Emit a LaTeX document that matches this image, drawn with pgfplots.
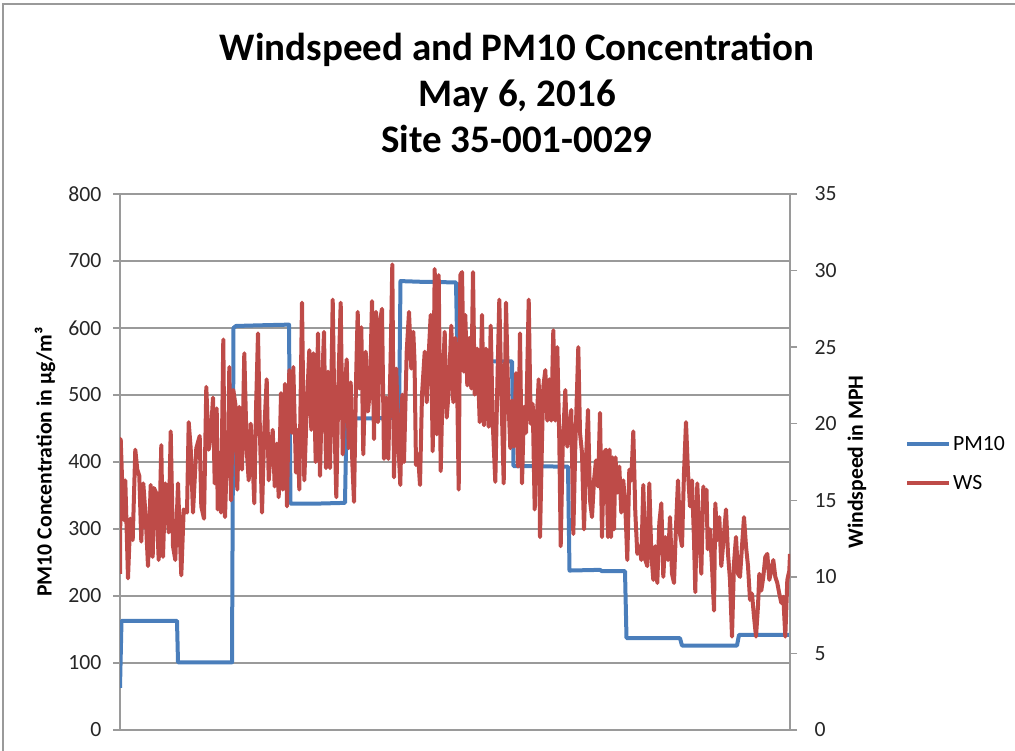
\documentclass[border=0pt]{standalone}
\usepackage{fontspec}
\setmainfont{Carlito}
\usepackage{pgfplots}
\pgfplotsset{compat=1.18}
\definecolor{pmblue}{HTML}{4A7EBB}
\definecolor{wsred}{HTML}{BE4B48}
\definecolor{gridgray}{HTML}{9A9A9A}
\newcommand{\lbl}{\fontsize{21.7}{26}\selectfont}
\begin{document}
\begin{tikzpicture}
\path[use as bounding box] (0pt,0pt) rectangle (1015pt,751pt);
\draw[gridgray, line width=1.5pt] (3pt,0pt) -- (3pt,747pt) -- (1015pt,747pt);
\node[anchor=base, font=\bfseries\fontsize{39}{46}\selectfont] at (517pt,690pt) {Windspeed and PM10 Concentration};
\node[anchor=base, font=\bfseries\fontsize{39}{46}\selectfont] at (517pt,644pt) {May 6, 2016};
\node[anchor=base, font=\bfseries\fontsize{39}{46}\selectfont] at (517pt,598pt) {Site 35-001-0029};
\begin{axis}[
  at={(120pt,21pt)}, anchor=south west,
  width=670pt, height=536pt, scale only axis,
  xmin=0, xmax=670, ymin=0, ymax=800,
  xtick=\empty,
  ytick={0,100,...,800},
  ytick pos=left,
  tick align=outside,
  major tick length=7pt,
  ymajorgrids,
  grid style={gridgray, line width=1.3pt},
  axis line style={gridgray, line width=1.3pt},
  tick style={gridgray, line width=1.3pt},
  yticklabel style={font=\lbl, text=black!85, xshift=-8pt},
  /pgf/number format/assume math mode=true,
  ylabel={PM10 Concentration in µg/m³},
  ylabel style={font=\bfseries\lbl, at={(axis description cs:-0.112,0.5)}, anchor=center},
]
\addplot[pmblue, line width=4pt, line join=round] coordinates {
(0,63) (1.5,163) (57,163) (58,101) (112,101) (113.5,600) (116,603) (140,604) (169,605) (170.5,338) (200,338) (225,339) (226.5,465) (250,465) (279,466) (280.5,670) (300,669) (336,668) (337.5,551) (392,550) (393.5,394) (448,393) (449.5,238) (480,239) (482,237) (505,237) (506.5,137) (560,137) (562,126) (617,126) (619,142) (670,142)
};
\end{axis}
\begin{axis}[
  at={(120pt,21pt)}, anchor=south west,
  width=670pt, height=536pt, scale only axis,
  xmin=0, xmax=670, ymin=0, ymax=35,
  axis x line=none,
  axis y line*=right,
  ytick={0,5,...,35},
  tick align=outside,
  major tick length=7pt,
  axis line style={gridgray, line width=1.3pt},
  tick style={gridgray, line width=1.3pt},
  yticklabel style={font=\lbl, text=black!85, xshift=14pt},
  /pgf/number format/assume math mode=true,
  ylabel={Windspeed in MPH},
  ylabel style={font=\bfseries\lbl, at={(axis description cs:1.1,0.5)}, anchor=center},
  legend style={draw=none, fill=none, font=\lbl, at={(axis description cs:1.1716,0.497)}, anchor=west, row sep=19pt, inner sep=0pt},
  legend cell align=left,
  legend image code/.code={\draw[#1] (0pt,0pt) -- (42pt,0pt);},
]
\addlegendimage{pmblue, line width=4pt}
\addlegendentry{PM10}
\addplot[wsred, line width=4pt, line join=round] coordinates {
(0,10.2) (0.7,19.0) (2,16.5) (4,13.7) (5.3,16.3) (8,9.9) (10.3,13.8) (12.7,12.4) (15.3,18.3) (17.3,17.0) (19.3,16.6) (21.3,12.3) (23.3,16.1) (25.7,13.9) (28,10.7) (30.7,16.0) (32.7,11.3) (34,15.8) (36,15.5) (38.7,11.1) (41.3,18.6) (43,11.3) (45.3,16.1) (47.3,14.8) (48.7,12.9) (50.7,19.5) (53,12.0) (55.3,11.1) (58,16.1) (59.7,12.9) (61.3,10.1) (63.7,14.4) (67,14.2) (68.7,20.1) (70.7,18.4) (73,14.2) (76.3,18.4) (79.7,19.2) (81.3,14.6) (84,13.8) (86.3,22.4) (88.7,18.3) (91.3,19.8) (93,21.7) (94.7,16.1) (96.7,21.0) (97.7,14.4) (99.3,18.1) (101,14.2) (103.3,25.5) (105,13.9) (106.7,17.4) (108,17.0) (109.3,23.7) (111,15.0) (113.3,22.2) (115.3,21.3) (117.3,15.7) (119.3,21.1) (122,17.0) (124.3,24.6) (126.7,18.3) (128.7,16.3) (130.7,20.0) (132.7,17.4) (134.3,14.8) (136,20.9) (138,25.9) (140,19.2) (142,14.2) (144.3,19.6) (146.7,22.9) (148.7,16.3) (150.3,17.8) (152.7,19.6) (154.7,15.9) (156.7,18.7) (158.7,15.2) (161,22.0) (162.7,15.7) (165,22.6) (167,14.6) (169.3,23.5) (172,19.4) (173.3,23.7) (176,16.8) (177.7,19.6) (179.3,15.7) (182,27.9) (184.3,16.3) (186.7,20.9) (189.3,24.8) (191.3,19.6) (193.3,24.6) (195.7,17.5) (198,25.9) (200,16.6) (202,22.3) (204,26.0) (206,17.1) (208,23.4) (210,17.1) (212.7,28.1) (214.7,19.5) (216.3,15.2) (218.7,23.4) (220.7,27.9) (222.7,18.0) (224.7,21.9) (226.7,24.2) (228.7,18.4) (230.7,22.7) (232.3,17.5) (234,14.9) (236,22.7) (237.7,27.3) (239.3,22.3) (241.3,26.3) (243.3,18.0) (245.7,24.7) (248,20.8) (250,22.3) (252,28.0) (254,19.0) (256,27.3) (258,20.1) (260,26.7) (262,27.5) (264,17.7) (266.3,21.7) (268.3,17.7) (270.7,24.5) (272.3,30.4) (274,16.5) (276.3,23.6) (278.3,18.8) (280.3,16.0) (282.3,21.9) (284,17.5) (286.7,24.7) (289,27.3) (291.3,23.6) (293.3,26.0) (294.5,24.1) (296,17.3) (298,18.0) (300,16.0) (302,21.9) (304.7,24.7) (306.7,21.4) (308.7,24.5) (310.7,27.1) (312.7,18.2) (314.7,30.1) (316.7,19.3) (318.7,29.7) (320.7,16.9) (322.7,22.7) (324.7,26.0) (326.7,20.4) (328.7,22.1) (331.3,26.4) (333.3,21.4) (335.3,25.6) (337,23.2) (338.7,15.7) (340.3,29.7) (342,29.9) (343.7,23.4) (345.3,27.1) (347.3,22.5) (349.3,25.6) (351.3,22.3) (353,29.9) (354.7,21.9) (357.3,24.9) (359.7,20.1) (362,27.1) (364,19.9) (366,24.9) (368.7,19.8) (370.7,26.4) (372.7,20.1) (375.3,16.2) (377.3,22.5) (379.3,28.1) (381.3,22.3) (383.7,16.1) (386,27.9) (388,22.3) (390.3,18.4) (392,21.5) (394,18.5) (396,23.3) (398,17.2) (400,25.9) (402,16.1) (404,21.1) (406,19.4) (408.7,28.1) (410.7,20.0) (412.7,21.3) (414.7,14.4) (416.7,20.2) (418.7,22.9) (420,12.6) (422,18.9) (423.3,22.4) (425.3,23.5) (427.3,20.2) (429.3,22.9) (431.3,20.2) (433.3,26.1) (435.3,20.2) (437.3,25.0) (439.3,18.9) (440.7,12.0) (442.7,18.5) (445.3,22.2) (447.3,18.5) (449.3,19.8) (451.3,20.9) (453.3,12.8) (455.3,18.5) (458.3,25.0) (460,19.4) (462,18.1) (464,13.1) (466,17.6) (468,20.9) (470,15.0) (472,13.9) (474,16.3) (476,17.6) (478,15.9) (480,20.7) (482,12.6) (484,18.1) (486,18.3) (488,12.6) (489.5,18.3) (491,12.6) (492.5,17.8) (494,13.1) (495.5,17.8) (497.3,15.5) (499.3,17.2) (501.3,14.2) (503.3,16.3) (505.3,14.6) (507.3,11.1) (509.3,17.0) (511.3,16.3) (513.3,19.5) (515.3,14.2) (517.3,11.5) (519.7,12.0) (521.3,11.1) (523.3,16.0) (525.3,11.1) (527.3,10.7) (529.3,16.1) (531.3,11.5) (533.3,9.8) (535.3,12.0) (537.3,9.6) (539.3,13.5) (541.3,14.8) (543.3,10.0) (545.3,12.6) (548,11.1) (550,13.9) (552,10.2) (554,9.6) (556,13.3) (558,16.3) (560,12.8) (562,12.0) (564,16.8) (566,20.1) (568,16.8) (570,14.6) (572,16.3) (574,12.4) (575.3,9.0) (577.3,16.1) (579.3,12.8) (581.3,10.2) (583.3,15.9) (585.3,14.2) (586.5,15.7) (587.7,11.8) (590,13.1) (592,10.7) (594,7.8) (595.3,14.8) (597.3,12.4) (599.3,13.9) (601.3,10.7) (604,12.8) (606,14.4) (608,11.5) (610,9.8) (612,6.1) (614,10.9) (616,12.6) (618,10.2) (620,10.0) (622,12.0) (624,13.9) (626,12.0) (628,10.7) (630,8.5) (632,8.9) (634,7.4) (636,6.1) (638,8.1) (639.3,10.2) (641.3,9.1) (643.3,10.0) (645.3,11.3) (647.3,11.5) (649.3,9.8) (651.3,10.4) (653.3,11.1) (655.3,10.0) (657.3,9.6) (659.3,8.9) (661.3,8.3) (663.3,8.7) (665.3,6.1) (667.3,9.8) (669.3,10.4) (670,11.5)
};
\addlegendentry{WS}
\end{axis}
\end{tikzpicture}
\end{document}
